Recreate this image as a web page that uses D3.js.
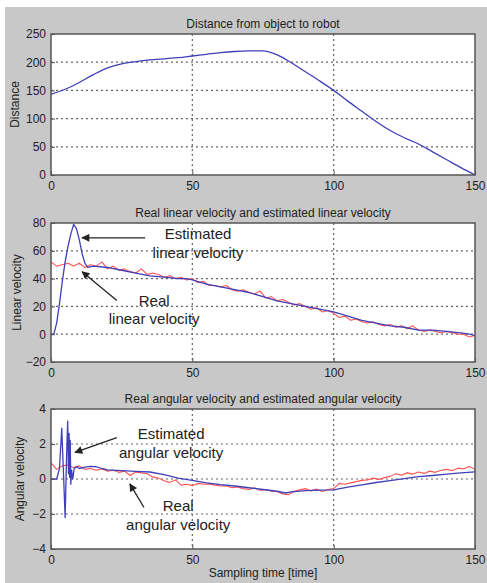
<!DOCTYPE html>
<html>
<head>
<meta charset="utf-8">
<script src="https://cdn.jsdelivr.net/npm/d3@7"></script>
<style>
  body { margin: 0; background: #fff; }
  svg { display: block; font-family: "Liberation Sans", Arial, sans-serif; }
</style>
</head>
<body>
<div id="chart"></div>
<script>
// ---- data ----
const xTicks = [0, 50, 100, 150];

const distT = [0,5,10,15,20,25,30,35,40,45,50,55,60,65,70,75,80,85,90,95,100,105,110,115,120,125,130,135,140,145,150];
const distance = [143,152,164,178,190,197,201,204,206,208,211,214,217,219,220,220,213,199,183,167,150,131,113,95,79,66,55,41,27,13,0];

const estLinT = [0,1,2,3,4,5,6,7,8,9,10,11,12,13,15,20,25,30,35,40,45,48,50,55,60,65,70,75,80,85,90,95,100,105,110,115,120,125,130,135,140,145,148,150];
const estLin = [0,0,8,22,38,52,63,72,79,76,68,58,51,48,49,48,46,44,42,41,40,40,39,36,34,32,30,27,24,22,20,18,16,13,10,8,6,5,3,3,2,1,0,-1];

const realLinT = d3.range(0, 151, 2);
const realLin = [52,49,50,51,49,51,48,50,49,52,47,49,46,47,45,44,47,43,44,43,41,42,40,41,39,40,37,38,35,35,34,35,32,31,32,30,29,31,26,27,24,25,23,21,22,20,18,19,16,17,15,12,13,10,11,9,8,9,7,6,7,5,6,4,6,3,2,3,2,1,2,1,0,0,-2,-1];

const estAngT = [0,1,2,3,3.8,4.4,5,5.5,5.9,6.2,6.4,6.6,6.8,7.0,7.3,7.7,8.2,9,10,12,14,16,18,20,25,30,35,40,45,50,55,60,65,70,75,80,83,85,90,95,100,105,110,115,120,125,130,135,140,145,150];
const estAng = [0,0,0,0.6,2.9,0.4,-2.2,1.2,3.3,0.3,2.6,0.1,2.2,-0.3,0.5,0.0,0.6,0.7,0.6,0.68,0.72,0.7,0.6,0.52,0.48,0.44,0.4,0.25,0.05,-0.08,-0.22,-0.32,-0.4,-0.5,-0.6,-0.7,-0.8,-0.74,-0.66,-0.63,-0.62,-0.46,-0.33,-0.2,-0.09,0.02,0.13,0.2,0.28,0.35,0.41];

const realAngT = d3.range(0, 151, 2);
const realAng = [0.92,0.55,0.75,0.8,0.65,0.75,0.55,0.6,0.5,0.58,0.45,0.5,0.38,0.45,0.2,0.4,0.35,0.3,0.12,0.05,-0.1,-0.2,-0.05,-0.35,-0.3,-0.38,-0.25,-0.3,-0.28,-0.35,-0.4,-0.38,-0.5,-0.45,-0.55,-0.6,-0.5,-0.65,-0.6,-0.7,-0.72,-0.85,-0.9,-0.7,-0.62,-0.55,-0.68,-0.58,-0.72,-0.6,-0.55,-0.25,-0.3,-0.22,-0.15,-0.08,-0.05,0.05,-0.02,0.08,0.15,0.3,0.22,0.35,0.28,0.4,0.32,0.45,0.38,0.5,0.55,0.48,0.62,0.58,0.72,0.55];

const W = 487, H = 583;
const blue = '#3f3fb8', red = '#ff5252', ink = '#222';

const svg = d3.select('#chart').append('svg')
  .attr('width', W).attr('height', H);

svg.append('rect').attr('x', 5).attr('y', 7)
  .attr('width', W - 5).attr('height', H - 7)
  .attr('fill', '#c8c8c8');

const x = d3.scaleLinear().domain([0, 150]).range([51, 475]);

const panels = [
  { title: 'Distance from object to robot', ylabel: 'Distance', top: 34, bottom: 175,
    domain: [0, 250], yTicks: [0, 50, 100, 150, 200, 250], labelX: 15, smooth: true,
    series: [{ t: distT, v: distance, color: blue, w: 1.3 }] },
  { title: 'Real linear velocity and estimated linear velocity', ylabel: 'Linear velocity', top: 223, bottom: 362,
    domain: [-20, 80], yTicks: [-20, 0, 20, 40, 60, 80], labelX: 17,
    series: [{ t: realLinT, v: realLin, color: red, w: 1.1 }, { t: estLinT, v: estLin, color: blue, w: 1.3 }] },
  { title: 'Real angular velocity and estimated angular velocity', ylabel: 'Angular velocity', top: 409, bottom: 549,
    domain: [-4, 4], yTicks: [-4, -2, 0, 2, 4], labelX: 20,
    series: [{ t: realAngT, v: realAng, color: red, w: 1.1 }, { t: estAngT, v: estAng, color: blue, w: 1.3 }] }
];

panels.forEach((p) => {
  const y = d3.scaleLinear().domain(p.domain).range([p.bottom, p.top]);
  const g = svg.append('g');
  p.y = y;

  g.append('rect')
    .attr('x', x(0)).attr('y', p.top)
    .attr('width', x(150) - x(0)).attr('height', p.bottom - p.top)
    .attr('fill', '#fff');

  // dotted grid (inner lines only)
  g.selectAll('.gx').data(xTicks.slice(1, -1)).enter().append('line')
    .attr('x1', (d) => x(d)).attr('x2', (d) => x(d))
    .attr('y1', p.top).attr('y2', p.bottom)
    .attr('stroke', '#666').attr('stroke-width', 1.2).attr('stroke-dasharray', '2,3');
  g.selectAll('.gy').data(p.yTicks.slice(1, -1)).enter().append('line')
    .attr('x1', x(0)).attr('x2', x(150))
    .attr('y1', (d) => y(d)).attr('y2', (d) => y(d))
    .attr('stroke', '#666').attr('stroke-width', 1.2).attr('stroke-dasharray', '2,3');

  const line = d3.line().x((d) => x(d[0])).y((d) => y(d[1]));
  if (p.smooth) line.curve(d3.curveMonotoneX);
  p.series.forEach((s) => {
    g.append('path')
      .datum(s.t.map((t, i) => [t, s.v[i]]))
      .attr('d', line)
      .attr('fill', 'none')
      .attr('stroke', s.color)
      .attr('stroke-width', s.w)
      .attr('stroke-linejoin', 'round');
  });

  // axes
  const xAxis = d3.axisBottom(x).tickValues(xTicks).tickSize(-4).tickPadding(6);
  const yAxis = d3.axisLeft(y).tickValues(p.yTicks).tickSize(-4).tickPadding(5);
  g.append('g').attr('transform', `translate(0,${p.bottom})`).call(xAxis);
  g.append('g').attr('transform', `translate(${x(0)},0)`).call(yAxis);
  g.selectAll('.domain').remove();
  g.selectAll('.tick line').attr('stroke', '#555');
  g.selectAll('.tick text').attr('fill', ink).style('font-size', '12px');

  g.append('rect')
    .attr('x', x(0)).attr('y', p.top)
    .attr('width', x(150) - x(0)).attr('height', p.bottom - p.top)
    .attr('fill', 'none').attr('stroke', '#555').attr('stroke-width', 1.5);

  g.append('text')
    .attr('x', (x(0) + x(150)) / 2).attr('y', p.top - 6)
    .attr('text-anchor', 'middle').attr('fill', ink)
    .style('font-size', '12px').text(p.title);

  g.append('text')
    .attr('transform', `translate(${p.labelX},${(p.top + p.bottom) / 2}) rotate(-90)`)
    .attr('text-anchor', 'middle').attr('dy', '0.35em').attr('fill', ink)
    .style('font-size', '12px').text(p.ylabel);
});

svg.append('text')
  .attr('x', (x(0) + x(150)) / 2).attr('y', 577)
  .attr('text-anchor', 'middle').attr('fill', ink)
  .style('font-size', '12px').text('Sampling time [time]');

// annotations (data-space anchors)
svg.append('defs').append('marker')
  .attr('id', 'head').attr('viewBox', '0 0 10 10')
  .attr('refX', 9).attr('refY', 5)
  .attr('markerWidth', 9).attr('markerHeight', 8)
  .attr('markerUnits', 'userSpaceOnUse')
  .attr('orient', 'auto')
  .append('path').attr('d', 'M0,0 L10,5 L0,10 z').attr('fill', ink);

const notes = [
  { p: 1, lines: ['Estimated', 'linear velocity'], tx: 52, ty: 72, from: [33.3, 69.3], to: [11, 69.3] },
  { p: 1, lines: ['Real', 'linear velocity'], tx: 36.5, ty: 24.3, from: [23.3, 24.3], to: [11, 45] },
  { p: 2, lines: ['Estimated', 'angular velocity'], tx: 42.5, ty: 2.6, from: [23.3, 2.37], to: [8.5, 1.52] },
  { p: 2, lines: ['Real', 'angular velocity'], tx: 45, ty: -1.52, from: [32.9, -1.63], to: [27.9, -0.28] }
];

notes.forEach((n) => {
  const p = panels[n.p];
  const t = svg.append('text')
    .attr('x', x(n.tx)).attr('y', p.y(n.ty))
    .attr('text-anchor', 'middle').attr('fill', ink)
    .style('font-size', '15px');
  n.lines.forEach((l, i) => {
    t.append('tspan').attr('x', x(n.tx)).attr('dy', i === 0 ? '0.35em' : '1.25em').text(l);
  });
  svg.append('line')
    .attr('x1', x(n.from[0])).attr('y1', p.y(n.from[1]))
    .attr('x2', x(n.to[0])).attr('y2', p.y(n.to[1]))
    .attr('stroke', ink).attr('stroke-width', 1.3)
    .attr('marker-end', 'url(#head)');
});
</script>
</body>
</html>
